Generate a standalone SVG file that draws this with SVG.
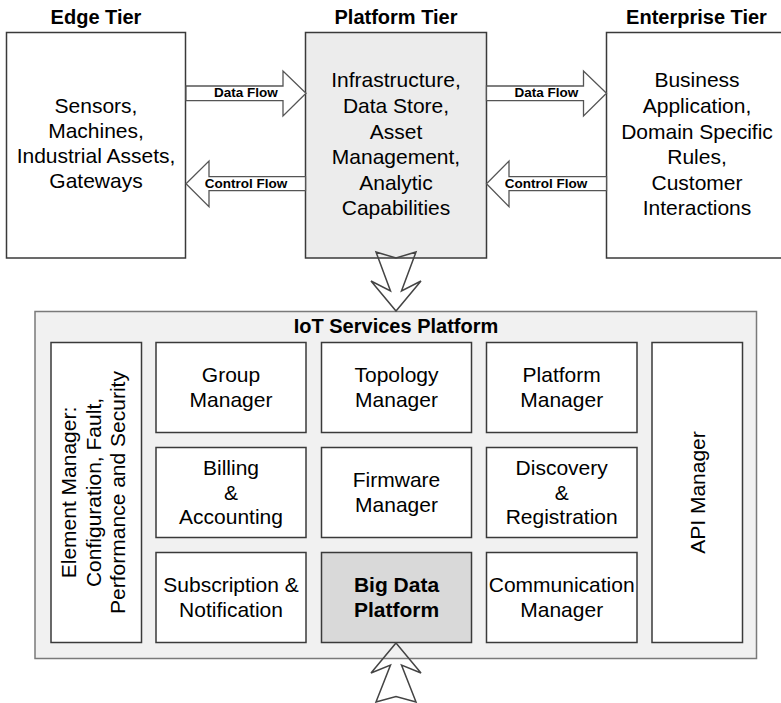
<svg xmlns="http://www.w3.org/2000/svg" width="781" height="703" viewBox="0 0 781 703">
<style>
  .box { fill: #ffffff; stroke: #3a3a3a; stroke-width: 1.5; }
  .gray { fill: #ececec; }
  .outer { fill: #f1f1f1; stroke: #7a7a7a; stroke-width: 1.5; }
  .dark { fill: #d9d9d9; }
  .arrow { fill: #ffffff; stroke: #555555; stroke-width: 1.3; stroke-linejoin: miter; }
  .chev { fill: none; stroke: #444444; stroke-width: 1.5; stroke-linejoin: miter; }
  text { font-family: "Liberation Sans", Arial, sans-serif; fill: #000000; }
  .t { font-size: 21px; text-anchor: middle; }
  .title { font-size: 20px; font-weight: bold; text-anchor: middle; }
  .lbl { font-size: 13.5px; font-weight: bold; text-anchor: middle; }
  .b { font-weight: bold; }
</style>

<g id="titles">
  <text class="title" x="96" y="24">Edge Tier</text>
  <text class="title" x="396" y="24">Platform Tier</text>
  <text class="title" x="696.5" y="24">Enterprise Tier</text>
</g>

<g id="edge-tier">
  <rect class="box" x="6.5" y="32.5" width="179" height="225.5"/>
  <text class="t" x="96" y="113">Sensors,</text>
  <text class="t" x="96" y="138">Machines,</text>
  <text class="t" x="96" y="163">Industrial Assets,</text>
  <text class="t" x="96" y="188">Gateways</text>
</g>

<g id="platform-tier">
  <rect class="box gray" x="305.5" y="32.5" width="181" height="225.5"/>
  <text class="t" x="396" y="87.3">Infrastructure,</text>
  <text class="t" x="396" y="113">Data Store,</text>
  <text class="t" x="396" y="138.6">Asset</text>
  <text class="t" x="396" y="164.2">Management,</text>
  <text class="t" x="396" y="189.8">Analytic</text>
  <text class="t" x="396" y="215.4">Capabilities</text>
</g>

<g id="enterprise-tier">
  <rect class="box" x="606.5" y="32.5" width="185" height="225.5"/>
  <text class="t" x="697" y="87.3">Business</text>
  <text class="t" x="697" y="113">Application,</text>
  <text class="t" x="697" y="138.6">Domain Specific</text>
  <text class="t" x="697" y="164.2">Rules,</text>
  <text class="t" x="697" y="189.8">Customer</text>
  <text class="t" x="697" y="215.4">Interactions</text>
</g>

<g id="iot-services-platform">
  <rect class="outer" x="35" y="311.5" width="721.5" height="347"/>
  <text class="title" x="396" y="333">IoT Services Platform</text>
</g>

<g id="element-manager">
  <rect class="box" x="51" y="342.5" width="90.5" height="300"/>
  <g transform="translate(96,492.5) rotate(-90)">
    <text class="t" x="0" y="-20">Element Manager:</text>
    <text class="t" x="0" y="4.5">Configuration, Fault,</text>
    <text class="t" x="0" y="29">Performance and Security</text>
  </g>
</g>

<g id="group-manager">
  <rect class="box" x="156" y="342.5" width="150" height="90"/>
  <text class="t" x="231" y="382">Group</text>
  <text class="t" x="231" y="406.5">Manager</text>
</g>

<g id="topology-manager">
  <rect class="box" x="321.5" y="342.5" width="150" height="90"/>
  <text class="t" x="396.5" y="382">Topology</text>
  <text class="t" x="396.5" y="406.5">Manager</text>
</g>

<g id="platform-manager">
  <rect class="box" x="486.5" y="342.5" width="150.5" height="90"/>
  <text class="t" x="561.7" y="382">Platform</text>
  <text class="t" x="561.7" y="406.5">Manager</text>
</g>

<g id="billing-accounting">
  <rect class="box" x="156" y="447.5" width="150" height="90"/>
  <text class="t" x="231" y="475">Billing</text>
  <text class="t" x="231" y="499.5">&amp;</text>
  <text class="t" x="231" y="524">Accounting</text>
</g>

<g id="firmware-manager">
  <rect class="box" x="321.5" y="447.5" width="150" height="90"/>
  <text class="t" x="396.5" y="487">Firmware</text>
  <text class="t" x="396.5" y="511.5">Manager</text>
</g>

<g id="discovery-registration">
  <rect class="box" x="486.5" y="447.5" width="150.5" height="90"/>
  <text class="t" x="561.7" y="475">Discovery</text>
  <text class="t" x="561.7" y="499.5">&amp;</text>
  <text class="t" x="561.7" y="524">Registration</text>
</g>

<g id="subscription-notification">
  <rect class="box" x="156" y="552.5" width="150" height="90"/>
  <text class="t" x="231" y="592">Subscription &amp;</text>
  <text class="t" x="231" y="616.5">Notification</text>
</g>

<g id="big-data-platform">
  <rect class="box dark" x="321.5" y="552.5" width="150" height="90"/>
  <text class="t b" x="396.5" y="592">Big Data</text>
  <text class="t b" x="396.5" y="616.5">Platform</text>
</g>

<g id="communication-manager">
  <rect class="box" x="486.5" y="552.5" width="150.5" height="90"/>
  <text class="t" x="561.7" y="592">Communication</text>
  <text class="t" x="561.7" y="616.5">Manager</text>
</g>

<g id="api-manager">
  <rect class="box" x="652" y="342.5" width="90.5" height="300"/>
  <g transform="translate(697.3,492.5) rotate(-90)">
    <text class="t" x="0" y="7.5">API Manager</text>
  </g>
</g>

<g id="connectors">
  <polygon class="arrow" points="186,86 283,86 283,71 306,93.3 283,116 283,100.7 186,100.7"/>
  <text class="lbl" x="246" y="96.5">Data Flow</text>
  <polygon class="arrow" points="305.5,176.7 209,176.7 209,161 186,183.7 209,206.7 209,190.7 305.5,190.7"/>
  <text class="lbl" x="246" y="187.5">Control Flow</text>
  <polygon class="arrow" points="486.5,86 583.5,86 583.5,71 606.5,93.3 583.5,116 583.5,100.7 486.5,100.7"/>
  <text class="lbl" x="546.3" y="96.5">Data Flow</text>
  <polygon class="arrow" points="606.5,176.7 509,176.7 509,161 486.5,183.7 509,206.7 509,190.7 606.5,190.7"/>
  <text class="lbl" x="546" y="187.5">Control Flow</text>
  <polygon class="chev" points="376,252 396,258 416,252 401.5,291 421,281 396,311 371,281 390.5,291"/>
  <polygon class="chev" points="396,643 421,673 401.5,665 416,702 396,696.5 376,702 390.5,665 371,673"/>
</g>
</svg>
